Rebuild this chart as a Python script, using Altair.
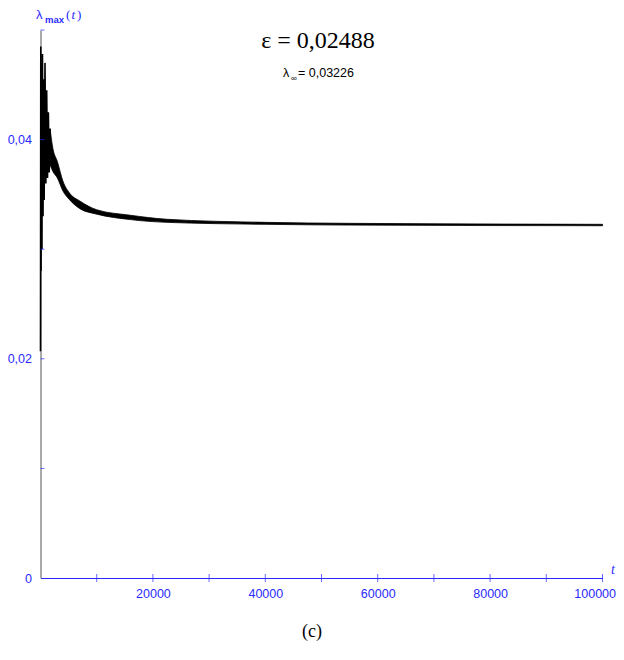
import altair as alt
import pandas as pd

# --- data ---
# early oscillation (zig-zag) of lambda_max(t)
spike_t = [0, 50, 100, 180, 260, 350, 450, 550, 650, 800, 950, 1100, 1250, 1400, 1550, 1700]
spike_v = [0.0207, 0.0485, 0.0280, 0.0465, 0.0300, 0.0478, 0.0330, 0.0455, 0.0345, 0.0470,
           0.0360, 0.0445, 0.0365, 0.0425, 0.0370, 0.0410]

# envelope of the decaying oscillation band
band_t = [1700, 2200, 3000, 4000, 5200, 7000, 10000, 16000, 22500, 40000, 55000, 100000]
band_hi = [0.0410, 0.0392, 0.0380, 0.0362, 0.0351, 0.0344, 0.0336, 0.0331, 0.03273, 0.03245, 0.03236, 0.03227]
band_lo = [0.0377, 0.0371, 0.0365, 0.0353, 0.0345, 0.0337, 0.0332, 0.0327, 0.03245, 0.03227, 0.03220, 0.03214]

x_ticks = [10000, 20000, 30000, 40000, 50000, 60000, 70000, 80000, 90000, 100000]
x_labels = [20000, 40000, 60000, 80000, 100000]
y_ticks = [0.01, 0.02, 0.03, 0.04, 0.05]
y_labels = [0, 0.02, 0.04]

BLUE = "#2a2aff"
W, H = 562, 548

spike_df = pd.DataFrame({"t": spike_t, "v": spike_v})
band_df = pd.DataFrame({"t": band_t, "hi": band_hi, "lo": band_lo})
xt_df = pd.DataFrame({"t": x_ticks, "v": [0] * len(x_ticks)})
yt_df = pd.DataFrame({"t": [0] * len(y_ticks), "v": y_ticks})

xs = alt.Scale(domain=[0, 100000], nice=False, zero=True)
ys = alt.Scale(domain=[0, 0.05], nice=False, zero=True)

x_axis = alt.Axis(values=x_labels, format="d", title=None, grid=False, tickSize=0,
                  domainColor=BLUE, labelColor=BLUE, labelFont="Liberation Sans",
                  labelFontSize=12.5, labelPadding=9, labelFlush=True, labelFlushOffset=13)
y_axis = alt.Axis(values=y_labels, title=None, grid=False, tickSize=0,
                  domainColor="#555555", labelColor=BLUE, labelFont="Liberation Sans",
                  labelFontSize=12.5, labelPadding=9,
                  labelExpr="datum.value == 0 ? '0' : replace(format(datum.value, '.2f'), '.', ',')")

base_axes = alt.Chart(spike_df).mark_line(color="black", strokeWidth=1.6).encode(
    x=alt.X("t:Q", scale=xs, axis=x_axis),
    y=alt.Y("v:Q", scale=ys, axis=y_axis),
    order="t:Q",
)

band = alt.Chart(band_df).mark_area(color="black", stroke="black", strokeWidth=0.8,
                                    interpolate="monotone").encode(
    x=alt.X("t:Q", scale=xs),
    y=alt.Y("hi:Q", scale=ys),
    y2="lo:Q",
)

xticks = alt.Chart(xt_df).mark_tick(color=BLUE, orient="vertical", size=8, thickness=1).encode(
    x=alt.X("t:Q", scale=xs), y=alt.Y("v:Q", scale=ys))
yticks = alt.Chart(yt_df).mark_tick(color=BLUE, orient="horizontal", size=4, thickness=1,
                                    xOffset=2).encode(
    x=alt.X("t:Q", scale=xs), y=alt.Y("v:Q", scale=ys))

ann = pd.DataFrame({"d": [0]})


def txt(text, px, py, size, font="Liberation Sans", color=BLUE, style="normal",
        weight="normal", align="left"):
    return alt.Chart(ann).mark_text(text=text, font=font, fontSize=size, color=color,
                                    fontStyle=style, fontWeight=weight, align=align,
                                    baseline="alphabetic").encode(
        x=alt.value(px - 40.5), y=alt.value(py - 30))


texts = [
    txt("ε = 0,02488", 318, 48, 24, font="Liberation Serif", color="black", align="center"),
    txt("λ", 283, 77, 12.5, color="black"),
    txt("∞", 291, 81, 8, color="black"),
    txt("= 0,03226", 298, 77, 12.5, color="black"),
    txt("λ", 36, 19, 13),
    txt("max", 45, 23, 9.5, weight="bold"),
    txt("(", 66, 19, 13, font="Liberation Serif"),
    txt("t", 71.5, 19, 13, font="Liberation Serif", style="italic"),
    txt(")", 77, 19, 13, font="Liberation Serif"),
    txt("t", 613, 574, 14, font="Liberation Serif", style="italic", align="center"),
    txt("(c)", 312, 637, 18, font="Liberation Serif", color="black", align="center"),
]

chart = alt.layer(base_axes, band, xticks, yticks, *texts).properties(
    width=W, height=H,
    padding={"left": 32.5, "top": 22, "right": 13.5, "bottom": 74},
    autosize=alt.AutoSizeParams(type="none"),
).configure_view(stroke=None)

chart.save("out.html", embed_options={"renderer": "svg", "actions": False})
